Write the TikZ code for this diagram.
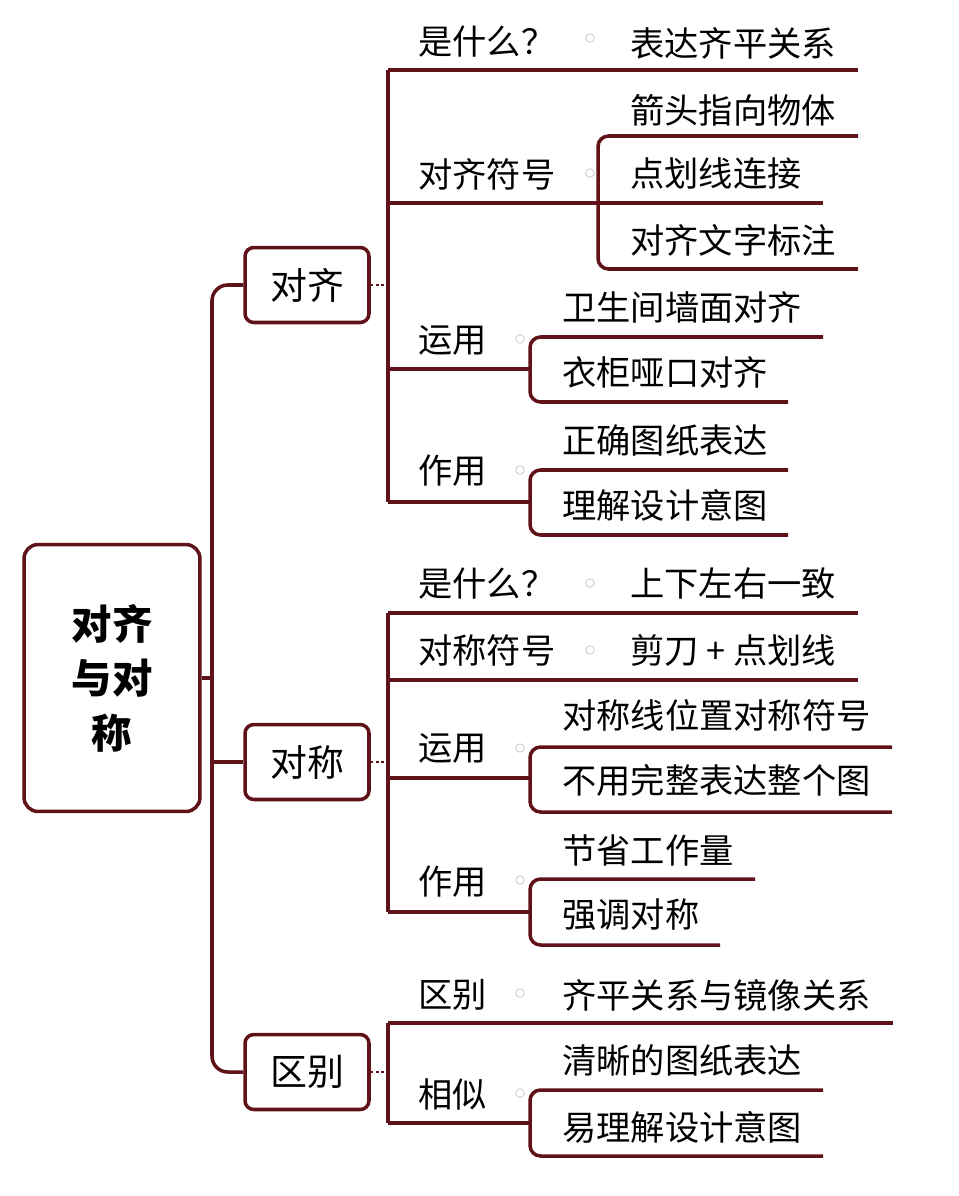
\documentclass[tikz,border=0pt]{standalone}
\usepackage{fontspec}
\setmainfont{Noto Sans CJK SC}
\usepackage{xcolor}
\definecolor{linered}{RGB}{95,18,24}
\definecolor{foldgray}{RGB}{205,205,205}

\tikzset{
  mapbox/.style={draw=linered, line width=2pt, rounded corners=5pt, inner sep=0pt,
                 minimum width=2.48cm, minimum height=1.5cm, font=\fontsize{21}{25}\selectfont},
  lbl/.style={anchor=west, inner sep=0pt, font=\fontsize{19.5}{23}\selectfont},
  link/.style={draw=linered, line width=2pt},
  dotlink/.style={draw=linered, line width=1pt, dash pattern=on 1.5pt off 1.5pt},
  fold/.style={circle, draw=foldgray, line width=0.5pt, inner sep=0pt, minimum size=0.17cm}
}

\begin{document}
\begin{tikzpicture}[x=0.02cm, y=-0.02cm]

% Page size
\useasboundingbox (0,0) rectangle (959,1196);

% Root and first level
\node[draw=linered, line width=2pt, rounded corners=8pt, minimum width=3.52cm, minimum height=5.34cm,
      align=center, font=\fontsize{23}{31}\selectfont\bfseries] (root) at (112,678) {对齐\\与对\\称};
\node[mapbox] (align) at (307,285) {对齐};
\node[mapbox] (sym) at (307,762) {对称};
\node[mapbox] (diff) at (307,1072) {区别};

% Trunk
\draw[link] (root.east) -- (212,678);
\draw[link, rounded corners=9pt] (align.west) -- (212,285) -- (212,1072) -- (diff.west);
\draw[link] (212,762) -- (sym.west);

% Dotted links to the spines
\coordinate (s1) at (388,285);
\coordinate (s2) at (388,762);
\coordinate (s3) at (388,1072);
\draw[dotlink] (align.east) -- (s1);
\draw[dotlink] (sym.east) -- (s2);
\draw[dotlink] (diff.east) -- (s3);

% Spines
\foreach \ya/\yb in {70/502, 613/912, 1023/1123}
  \draw[link] (388,\ya) -- (388,\yb);

% Underlines of the second level
\foreach \y/\xe in {70/858, 203/823, 369/530, 502/530, 613/858, 680/858, 778/530, 912/530, 1023/893, 1123/530}
  \draw[link] (388,\y) -- (\xe,\y);

% Brackets for the leaves
\foreach \xb/\ya/\yb/\xa/\xc in {598/136/269/858/858, 530/337/402/823/788, 530/470/535/788/788,
                                 530/747/812/892/892, 530/879/945/755/720, 530/1090/1156/823/823}
  \draw[link, rounded corners=6pt] (\xa,\ya) -- (\xb,\ya) -- (\xb,\yb) -- (\xc,\yb);

% Second level
\node[lbl] (what1) at (418,42) {是什么？};
\node[lbl] (sign1) at (418,174) {对齐符号};
\node[lbl] (use1) at (418,340) {运用};
\node[lbl] (role1) at (418,471) {作用};
\node[lbl] (what2) at (418,584) {是什么？};
\node[lbl] (sign2) at (418,650) {对称符号};
\node[lbl] (use2) at (418,748) {运用};
\node[lbl] (role2) at (418,882) {作用};
\node[lbl] (diff1) at (418,995) {区别};
\node[lbl] (same1) at (418,1094) {相似};

% Fold markers
\foreach \x/\y in {590/38, 590/173, 520/339, 520/470, 590/583, 590/650, 520/748, 520/880, 520/993, 520/1093}
  \node[fold] at (\x,\y) {};

% Leaves
\node[lbl] (a1) at (630,43) {表达齐平关系};
\node[lbl] (a2) at (630,110) {箭头指向物体};
\node[lbl] (a3) at (630,173) {点划线连接};
\node[lbl] (a4) at (630,240) {对齐文字标注};
\node[lbl] (a5) at (562,307) {卫生间墙面对齐};
\node[lbl] (a6) at (562,372) {衣柜哑口对齐};
\node[lbl] (a7) at (562,440) {正确图纸表达};
\node[lbl] (a8) at (562,505) {理解设计意图};
\node[lbl] (b1) at (630,583) {上下左右一致};
\node[lbl] (b2) at (630,650) {剪刀 + 点划线};
\node[lbl] (b3) at (562,715) {对称线位置对称符号};
\node[lbl] (b4) at (562,780) {不用完整表达整个图};
\node[lbl] (b5) at (562,850) {节省工作量};
\node[lbl] (b6) at (562,915) {强调对称};
\node[lbl] (c1) at (562,995) {齐平关系与镜像关系};
\node[lbl] (c2) at (562,1060) {清晰的图纸表达};
\node[lbl] (c3) at (562,1127) {易理解设计意图};

\end{tikzpicture}
\end{document}
